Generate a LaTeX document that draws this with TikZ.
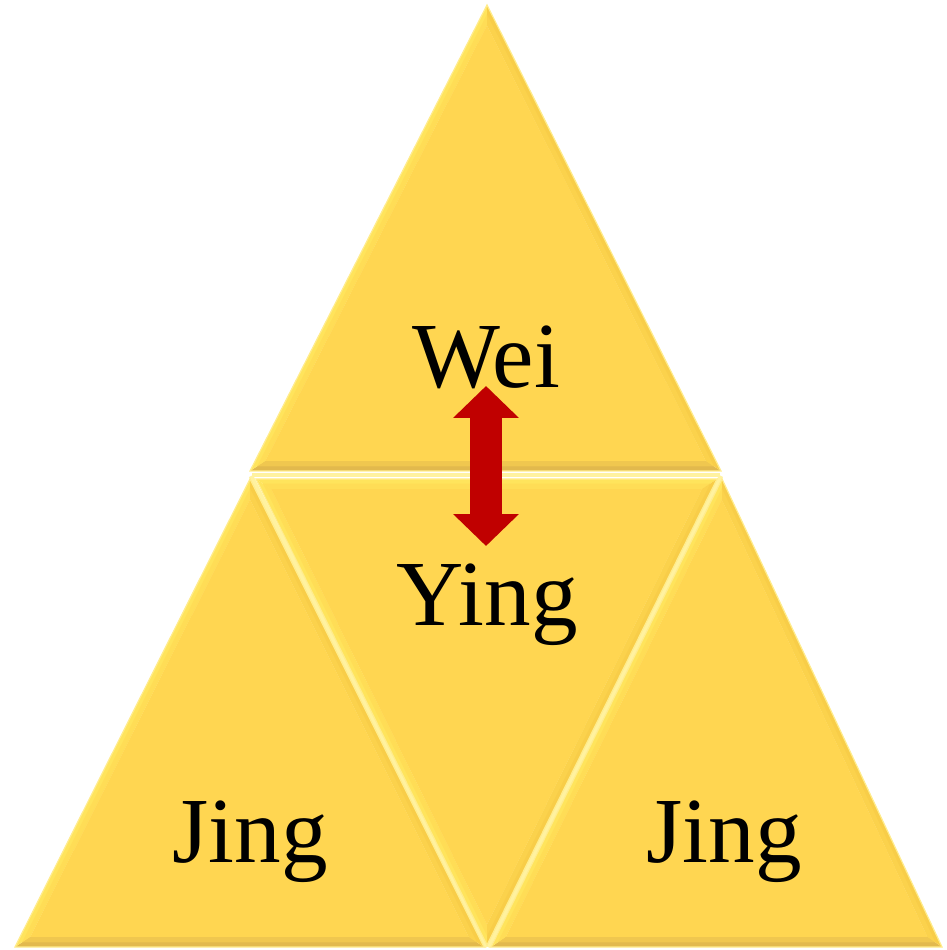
\documentclass[tikz,border=0pt]{standalone}
\usepackage{fontspec}
\setmainfont{Liberation Serif}
\usetikzlibrary{calc,arrows.meta}
\definecolor{gold}{HTML}{FFD651}
\definecolor{goldlight}{HTML}{FFE45C}
\definecolor{golddark}{HTML}{E2B94D}
\definecolor{goldmid}{HTML}{F8CD48}
\definecolor{gapcol}{HTML}{FFF2A0}
\definecolor{arrowred}{HTML}{C00000}
\newcommand\goldtri[6]{%
  \coordinate (gA) at #1; \coordinate (gB) at #2; \coordinate (gC) at #3;
  \coordinate (gG) at ($0.3333*(gA)+0.3333*(gB)+0.3334*(gC)$);
  \coordinate (ga) at ($(gA)!0.065!(gG)$);
  \coordinate (gb) at ($(gB)!0.065!(gG)$);
  \coordinate (gc) at ($(gC)!0.065!(gG)$);
  \coordinate (ha) at ($(gA)!0.03!(gG)$);
  \coordinate (hb) at ($(gB)!0.03!(gG)$);
  \coordinate (hc) at ($(gC)!0.03!(gG)$);
  \fill[#4] (gA)--(gB)--(gb)--(ga)--cycle;
  \fill[#5] (gB)--(gC)--(gc)--(gb)--cycle;
  \fill[#6] (gC)--(gA)--(ga)--(gc)--cycle;
  \fill[#4!50!gold] (ha)--(hb)--(gb)--(ga)--cycle;
  \fill[#5!50!gold] (hb)--(hc)--(gc)--(gb)--cycle;
  \fill[#6!50!gold] (hc)--(ha)--(ga)--(gc)--cycle;
  \fill[gold] (ga)--(gb)--(gc)--cycle;
  \draw[goldlight!70!white, line width=0.12mm, line join=miter] (gA)--(gB)--(gC)--cycle;
}
\tikzset{
  label/.style={font=\fontsize{26.5pt}{30pt}\selectfont, text=black, anchor=base, inner sep=0pt},
  gapline/.style={gapcol, line width=0.45mm},
}
\begin{document}
\begin{tikzpicture}[x=0.1mm,y=-0.1mm]
\useasboundingbox (0,0) rectangle (946,950);
% gaps
\draw[gapline] (252,475) -- (720,475);
\draw[gapline] (251,476) -- (487,947);
\draw[gapline] (721,476) -- (488,947);
% triangles
\goldtri{(250,471)}{(721,471)}{(487,5)}{golddark}{goldmid}{goldlight}
\goldtri{(15,947)}{(484,947)}{(250,479)}{golddark}{goldmid}{goldlight}
\goldtri{(256,479)}{(717,479)}{(487,945)}{goldlight}{goldmid}{goldlight}
\goldtri{(491,947)}{(942,947)}{(722,479)}{golddark}{goldmid}{goldlight}
% labels
\node[label] (wei) at (486,388) {Wei};
\node[label] (ying) at (487,625) {Ying};
\node[label] (jingl) at (250,862) {Jing};
\node[label] (jingr) at (724,862) {Jing};
% arrow
\coordinate (atop) at (486,386);
\coordinate (abot) at (486,546);
\draw[arrowred, line width=3.2mm, {Triangle[length=3.2mm,width=6.4mm]}-{Triangle[length=3.2mm,width=6.4mm]}] (atop) -- (abot);
\end{tikzpicture}
\end{document}
